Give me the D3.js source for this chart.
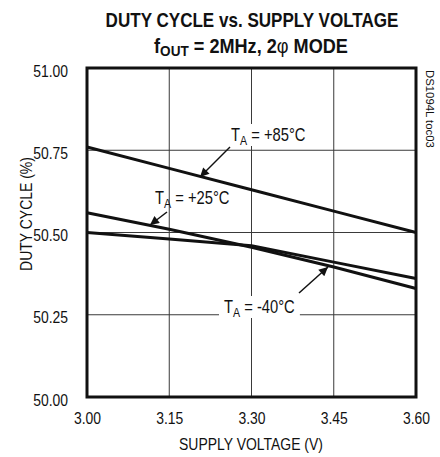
<!DOCTYPE html>
<html><head><meta charset="utf-8">
<script src="https://cdn.jsdelivr.net/npm/d3@7"></script>
<style>
body{margin:0;background:#fff;}
text{font-family:"Liberation Sans",Arimo,sans-serif;}
</style></head>
<body><svg id="c" width="440" height="457"></svg>
<script>
const voltages = [3.00, 3.15, 3.30, 3.45, 3.60];
const duty85 = [50.76, 50.695, 50.63, 50.565, 50.50];
const duty25 = [50.56, 50.51, 50.455, 50.395, 50.33];
const dutyM40 = [50.50, 50.48, 50.46, 50.41, 50.36];
const xTicks = [3.00, 3.15, 3.30, 3.45, 3.60];
const yTicks = [50.00, 50.25, 50.50, 50.75, 51.00];

const INK = "#111";
const NARROW = 0.82;
const svg = d3.select("#c");
const L = 87, R = 416, T = 68, B = 397;
const x = d3.scaleLinear().domain([3.0, 3.6]).range([L, R]);
const y = d3.scaleLinear().domain([50, 51]).range([B, T]);

// grid
svg.append("g").selectAll("line").data(xTicks.slice(1, -1)).join("line")
  .attr("x1", d => x(d)).attr("x2", d => x(d)).attr("y1", T).attr("y2", B)
  .attr("stroke", "#3a3a3a").attr("stroke-width", 1);
svg.append("g").selectAll("line").data(yTicks.slice(1, -1)).join("line")
  .attr("y1", d => y(d)).attr("y2", d => y(d)).attr("x1", L).attr("x2", R)
  .attr("stroke", "#3a3a3a").attr("stroke-width", 1);

// axes tick labels via d3 axis
const xAxis = svg.append("g").attr("transform", `translate(0,${B})`)
  .call(d3.axisBottom(x).tickValues(xTicks).tickFormat(d3.format(".2f")).tickSize(0).tickPadding(0));
xAxis.selectAll("text").attr("y", 0).attr("dy", null)
  .attr("transform", "translate(0,27) scale(" + NARROW + ",1)");
const yAxis = svg.append("g").attr("transform", `translate(${L},0)`)
  .call(d3.axisLeft(y).tickValues(yTicks).tickFormat(d3.format(".2f")).tickSize(0).tickPadding(0));
yAxis.selectAll("text").attr("x", 0).attr("dy", null)
  .attr("transform", "translate(-19,8) scale(" + NARROW + ",1)");
[xAxis, yAxis].forEach(a => {
  a.select(".domain").remove();
  a.selectAll("text").attr("font-size", 17).attr("fill", INK)
    .attr("font-family", '"Liberation Sans",Arimo,sans-serif');
});

// series lines
const line = d3.line().x((d, i) => x(voltages[i])).y(d => y(d));
[duty85, duty25, dutyM40].forEach(s => {
  svg.append("path").datum(s).attr("d", line).attr("fill", "none")
    .attr("stroke", INK).attr("stroke-width", 3).attr("stroke-linejoin", "round");
});

// frame
svg.append("rect").attr("x", L).attr("y", T).attr("width", R - L).attr("height", B - T)
  .attr("fill", "none").attr("stroke", INK).attr("stroke-width", 3);

// arrow marker
svg.append("defs").append("marker").attr("id", "ah").attr("viewBox", "0 0 10 10")
  .attr("refX", 10).attr("refY", 5).attr("markerWidth", 13).attr("markerHeight", 9)
  .attr("markerUnits", "userSpaceOnUse").attr("orient", "auto")
  .append("path").attr("d", "M0,0 L10,5 L0,10 z").attr("fill", INK);

// text that is drawn with a fixed horizontal scale (condensed look)
function narrow(px, py, opts) {
  const g = svg.append("g").attr("transform", `translate(${px},${py})` + (opts.rotate ? ` rotate(${opts.rotate})` : ""));
  const t = g.append("text").attr("font-size", opts.size).attr("fill", INK)
    .attr("text-anchor", opts.anchor || "start").attr("font-weight", opts.weight || "normal");
  opts.build(t);
  let f = NARROW;
  if (opts.width) f = opts.width / t.node().getComputedTextLength();
  t.attr("transform", `scale(${f},1)`);
  return {g, t, f};
}

function label(lx, baseline, rest, bg) {
  const r = narrow(lx, baseline, {size: 18, build: t => {
    t.append("tspan").text("T");
    t.append("tspan").text("A").attr("font-size", 13).attr("dy", 4);
    t.append("tspan").text(rest).attr("dy", -4);
  }});
  if (bg) {
    const bb = r.t.node().getBBox();
    r.g.insert("rect", "text").attr("x", bb.x * r.f - 5).attr("y", -17)
      .attr("width", bb.width * r.f + 10).attr("height", 22).attr("fill", "#fff");
  }
}
function arrow(x1, y1, x2, y2) {
  svg.append("line").attr("x1", x1).attr("y1", y1).attr("x2", x2).attr("y2", y2)
    .attr("stroke", INK).attr("stroke-width", 1.5).attr("marker-end", "url(#ah)");
}
label(231, 141, " = +85°C", true);
arrow(230, 147, 200, 177);
label(155, 204, " = +25°C", false);
arrow(167, 212, 150, 225);
label(224, 313, " = -40°C", true);
arrow(299, 293, 328, 267);

// titles
narrow(252, 27, {size: 20, weight: "bold", anchor: "middle", width: 293,
  build: t => t.text("DUTY CYCLE vs. SUPPLY VOLTAGE")});
narrow(251, 53, {size: 20, weight: "bold", anchor: "middle", width: 194,
  build: t => {
    t.append("tspan").text("f");
    t.append("tspan").text("OUT").attr("font-size", 15).attr("dy", 3);
    t.append("tspan").text(" = 2MHz, 2").attr("dy", -3);
    t.append("tspan").text("φ").attr("font-weight", "normal");
    t.append("tspan").text(" MODE");
  }});

narrow(251, 450, {size: 16, anchor: "middle", width: 144, build: t => t.text("SUPPLY VOLTAGE (V)")});
narrow(32, 214, {size: 16, anchor: "middle", rotate: -90, width: 114, build: t => t.text("DUTY CYCLE (%)")});
narrow(426, 70, {size: 10, anchor: "start", rotate: 90, width: 78, build: t => t.text("DS1094L toc03")});
</script></body></html>
